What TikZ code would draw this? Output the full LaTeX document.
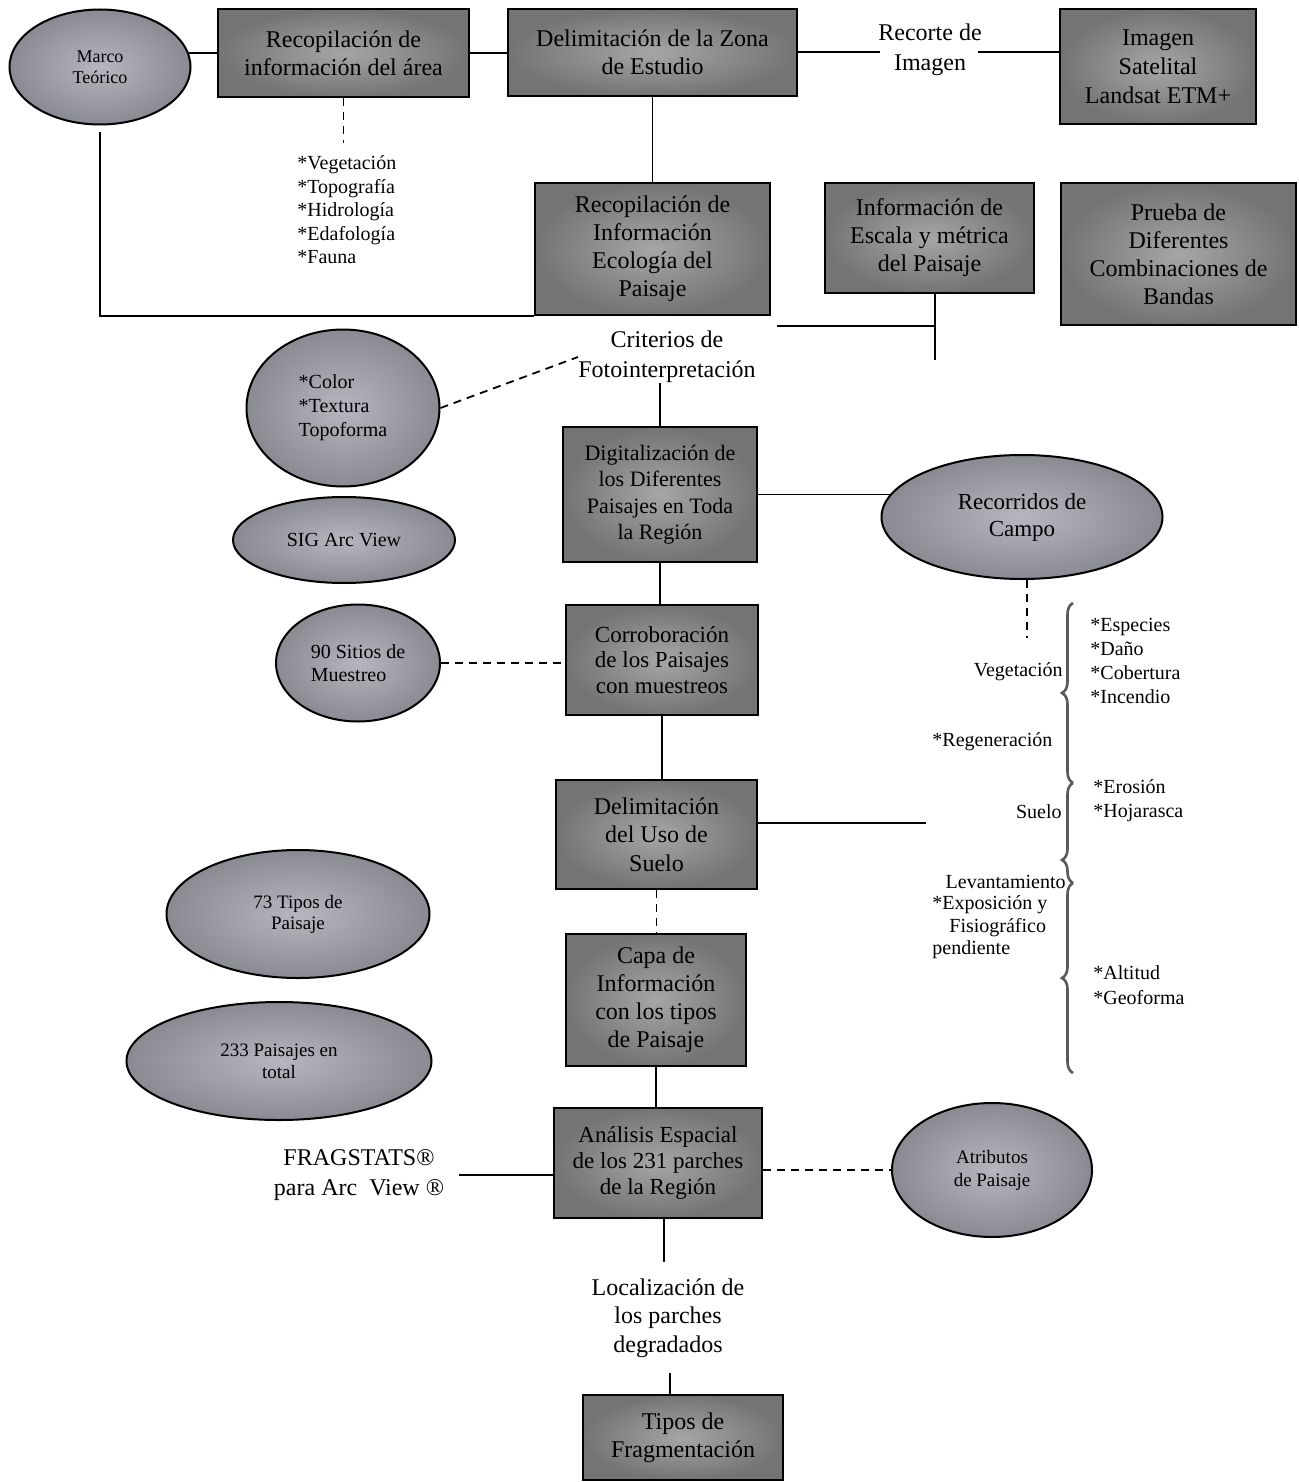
\documentclass[tikz,border=0pt]{standalone}
\usepackage{fontspec}
\setmainfont{Liberation Serif}
\usetikzlibrary{shapes.geometric,decorations.pathreplacing,backgrounds}
\definecolor{boxin}{HTML}{A6A6A6}
\definecolor{boxout}{HTML}{747474}
\definecolor{ellin}{HTML}{B6B6BE}
\definecolor{ellout}{HTML}{8A8A92}
\begin{document}
\begin{tikzpicture}[x=0.5pt,y=-0.5pt,
  box/.style={draw=black, line width=1pt, rectangle, inner color=boxin, outer color=boxout,
    align=center, font=\fontsize{12}{14}\selectfont, inner sep=2pt},
  ell/.style={draw=black, line width=1pt, ellipse, inner color=ellin, outer color=ellout,
    align=center, font=\fontsize{10}{11.5}\selectfont, inner sep=0pt},
  lbl/.style={align=center, font=\fontsize{12}{15}\selectfont, inner sep=0pt},
  lst/.style={align=left, font=\fontsize{10}{11.75}\selectfont, inner sep=0pt},
  rl/.style={align=left, font=\fontsize{10}{12}\selectfont, inner sep=0pt},
  conn/.style={line width=0.9pt, draw=black},
  dconn/.style={conn, dash pattern=on 4pt off 3pt},
  brc/.style={line width=1.3pt, draw=black!65}]
\useasboundingbox (0,0) rectangle (1298,1482);

% ---- nodes ----
\node[ell, minimum width=90.5pt, minimum height=57.5pt, font=\fontsize{9}{10.5}\selectfont] (marco) at (100,67) {Marco\\Teórico};
\node[box, minimum width=125.5pt, minimum height=44pt] (r1) at (343.5,53) {Recopilación de\\información del área};
\node[box, minimum width=144.5pt, minimum height=43.5pt] (delim) at (652.5,52.5) {Delimitación de la Zona\\de Estudio};
\node[lbl] (recorte) at (930,50) {Recorte de\\Imagen};
\node[box, minimum width=98pt, minimum height=57.5pt, font=\fontsize{12}{14.5}\selectfont] (imagen) at (1158,66.5) {Imagen\\Satelital\\Landsat ETM+};
\node[lst, anchor=west] (lista) at (297,210) {*Vegetación\\*Topografía\\*Hidrología\\*Edafología\\*Fauna};
\node[box, minimum width=117.5pt, minimum height=66pt] (recEco) at (652.5,249) {Recopilación de\\Información\\Ecología del\\Paisaje};
\node[box, minimum width=104.5pt, minimum height=55pt] (escala) at (929.5,238) {Información de\\Escala y métrica\\del Paisaje};
\node[box, minimum width=117.5pt, minimum height=71pt] (prueba) at (1178.5,254) {Prueba de\\Diferentes\\Combinaciones de\\Bandas};
\node[lbl] (criterios) at (667,357) {Criterios de\\Fotointerpretación};
\node[ell, minimum width=96.5pt, minimum height=78.5pt, align=left, font=\fontsize{10}{12}\selectfont] (color) at (343,408) {*Color\\*Textura\\Topoforma};
\node[ell, minimum width=111pt, minimum height=43pt] (sig) at (344,540) {SIG Arc View};
\node[box, minimum width=97pt, minimum height=67.5pt, font=\fontsize{11}{13.25}\selectfont] (digit) at (660,494.5) {Digitalización de\\los Diferentes\\Paisajes en Toda\\la Región};
\node[ell, minimum width=140.5pt, minimum height=62pt, font=\fontsize{11.5}{13.5}\selectfont] (recorridos) at (1022,517) {Recorridos de\\Campo};
\node[ell, minimum width=82pt, minimum height=58.5pt, align=left] (sitios) at (358,663) {90 Sitios de\\Muestreo};
\node[box, minimum width=96pt, minimum height=55pt, font=\fontsize{11.5}{12.75}\selectfont] (corro) at (662,660) {Corroboración\\de los Paisajes\\con muestreos};
\node[box, minimum width=100.5pt, minimum height=54.5pt, font=\fontsize{12}{14.25}\selectfont] (uso) at (656.5,834.5) {Delimitación\\del Uso de\\Suelo};
\node[box, minimum width=90pt, minimum height=66pt] (capa) at (656,1000) {Capa de\\Información\\con los tipos\\de Paisaje};
\node[ell, minimum width=131.5pt, minimum height=64pt, font=\fontsize{9.5}{10.5}\selectfont] (tipos73) at (298,914) {73 Tipos de\\Paisaje};
\node[ell, minimum width=152.5pt, minimum height=59pt, font=\fontsize{9.5}{11}\selectfont] (p233) at (279,1061) {233 Paisajes en\\total};
\node[box, minimum width=104pt, minimum height=55pt, font=\fontsize{11.5}{13}\selectfont] (analisis) at (658,1163) {Análisis Espacial\\de los 231 parches\\de la Región};
\node[lbl] (frag) at (359,1175) {FRAGSTATS®\\para Arc\ \ View ®};
\node[ell, minimum width=100pt, minimum height=67pt, font=\fontsize{9.5}{11.5}\selectfont] (atrib) at (992,1170) {Atributos\\de Paisaje};
\node[lbl, font=\fontsize{12}{14.25}\selectfont] (local) at (668,1318) {Localización de\\los parches\\degradados};
\node[box, minimum width=100pt, minimum height=42.5pt] (tipos) at (683,1437.5) {Tipos de\\Fragmentación};

% right-side labels
\node[rl, anchor=east] (veg) at (1063,672) {Vegetación};
\node[rl, anchor=west] (esp) at (1090,661) {*Especies\\*Daño\\*Cobertura\\*Incendio};
\node[rl, anchor=west] (regen) at (932,742) {*Regeneración};
\node[rl, anchor=west] (eros) at (1093,801) {*Erosión\\*Hojarasca};
\node[rl, anchor=east] (suelo) at (1062,812) {Suelo};
\node[rl, anchor=east] (lev) at (1066,882) {Levantamiento};
\node[rl, anchor=west] (expo) at (932,905) {*Exposición y};
\node[rl, anchor=west] (fisio) at (949,928) {Fisiográfico};
\node[rl, anchor=west] (pend) at (932,950) {pendiente};
\node[rl, anchor=west, font=\fontsize{10}{12.5}\selectfont] (alt) at (1093,985) {*Altitud\\*Geoforma};

% braces
\coordinate (b0) at (1073,603);
\coordinate (b1) at (1073,783);
\coordinate (b2) at (1073,883);
\coordinate (b3) at (1073,1073);
\draw[brc, decorate, decoration={brace, mirror, amplitude=5.5pt, aspect=0.5}] (b0) -- (b1);
\draw[brc, decorate, decoration={brace, mirror, amplitude=5.5pt, aspect=0.77}] (b1) -- (b2);
\draw[brc, decorate, decoration={brace, mirror, amplitude=5.5pt, aspect=0.5}] (b2) -- (b3);

% helper coordinates
\coordinate (rc1) at (880,52);
\coordinate (rc2) at (978,52);
\coordinate (ld) at (344,143);
\coordinate (e0) at (777,326);
\coordinate (e1) at (935,360);
\coordinate (rd) at (1027,638);
\coordinate (ue) at (926,823);
\coordinate (fl) at (459,1175);
\coordinate (a1) at (664,1262);
\coordinate (l1) at (670,1373);

% ---- connectors ----
\begin{pgfonlayer}{background}
\draw[conn] (r1.west) -- (r1.west -| marco.center);
\draw[conn] (r1.east) -- (r1.east -| delim.west);
\draw[conn] (delim.east |- rc1) -- (rc1);
\draw[conn] (rc2) -- (rc2 -| imagen.west);
\draw[dconn] (r1.south) -- (r1.south |- ld);
\draw[conn] (delim.south) -- (delim.south |- recEco.north);
\draw[conn] ([yshift=-3.5pt]marco.south) |- (recEco.south west);
\draw[conn] (escala.south -| e1) -- (e1);
\draw[conn] (e0) -- (e0 -| e1);
\draw[conn] (criterios.south -| digit.north) -- (digit.north);
\draw[dconn] (color.east) -- (criterios.west);
\draw[conn] (digit.east) -- (digit.east -| recorridos.center);
\draw[dconn] (recorridos.south -| rd) -- (rd);
\draw[conn] (digit.south) -- (digit.south |- corro.north);
\draw[dconn] (sitios.east) -- (sitios.east -| corro.west);
\draw[conn] (corro.south) -- (corro.south |- uso.north);
\draw[conn] (uso.east |- ue) -- (ue);
\draw[dconn] (uso.south) -- (uso.south |- capa.north);
\draw[conn] (capa.south) -- (capa.south |- analisis.north);
\draw[conn] (fl) -- (fl -| analisis.west);
\draw[dconn] (analisis.east |- atrib.west) -- (atrib.west);
\draw[conn] (analisis.south -| a1) -- (a1);
\draw[conn] (l1) -- (l1 |- tipos.north);
\end{pgfonlayer}
\end{tikzpicture}
\end{document}
